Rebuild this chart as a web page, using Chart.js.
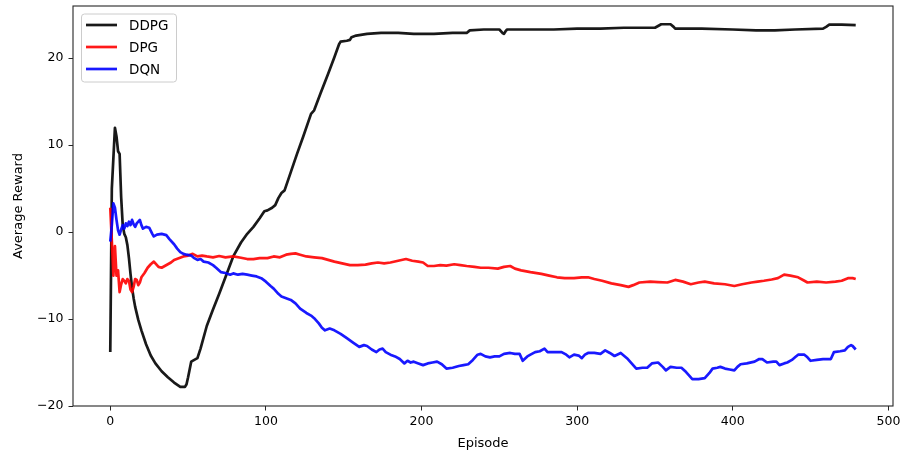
<!DOCTYPE html>
<html>
<head>
<meta charset="utf-8">
<script src="https://cdn.jsdelivr.net/npm/chart.js@4/dist/chart.umd.min.js"></script>
<style>
  html, body { margin: 0; padding: 0; background: #ffffff; }
  #wrap { width: 905px; height: 453px; }
</style>
</head>
<body>
<div id="wrap"><canvas id="c" width="905" height="453"></canvas></div>
<script>
// Average reward per episode for three agents
const seriesNames = ['DDPG', 'DPG', 'DQN'];
const seriesColors = ['rgba(0,0,0,0.9)', 'rgba(255,0,0,0.9)', 'rgba(0,0,255,0.9)'];

const ddpgEpisodes = [0,1,2,3,4,5,6,7,8,9,10,11,12,13,14,15,16,18,20,23,26,29,33,37,41,45,48,49,50,52,54,56,58,62,66,70,74,79,84,88,92,96,99,101,104,106,108,110,112,116,120,124,129,131,135,140,144,147,148,152,154,155,158,165,174,185,195,208,220,229,231,240,250,252,253,254,255,270,285,300,315,330,350,352,354,360,362,363,380,400,415,427,440,458,460,462,470,479];
const ddpgReward = [-13.8,5.0,8.5,12.0,11.0,9.3,9.0,4.0,0.8,-0.2,-0.6,-1.5,-3.0,-4.8,-6.4,-7.6,-8.6,-10.1,-11.3,-12.9,-14.2,-15.1,-16.0,-16.7,-17.3,-17.8,-17.8,-17.5,-16.7,-14.9,-14.7,-14.5,-13.4,-10.8,-8.9,-7.1,-5.2,-2.8,-1.2,-0.2,0.6,1.6,2.4,2.5,2.8,3.1,3.9,4.5,4.8,6.9,9.0,11.0,13.6,14.0,15.9,18.2,20.1,21.6,21.9,22.0,22.1,22.4,22.6,22.8,22.9,22.9,22.8,22.8,22.9,22.9,23.2,23.3,23.3,22.9,22.8,23.1,23.3,23.3,23.3,23.4,23.4,23.5,23.5,23.7,23.9,23.9,23.6,23.4,23.4,23.3,23.2,23.2,23.3,23.4,23.6,23.85,23.85,23.8];

const dpgEpisodes = [0,1,2,3,4,5,6,7,8,9,10,11,12,13,14,15,16,17,18,19,20,22,24,26,28,29,31,33,35,37,39,41,44,47,50,53,56,59,62,66,70,74,79,84,88,92,96,101,105,109,113,116,119,122,126,131,136,140,144,149,154,159,164,168,172,176,180,185,190,194,198,201,204,208,212,216,221,225,229,234,238,243,249,253,257,260,264,270,277,282,287,292,298,303,307,311,316,322,328,333,336,340,347,352,358,363,368,373,378,382,388,395,401,406,412,416,420,425,429,433,437,442,446,448,454,460,466,470,474,477,479];
const dpgReward = [2.8,-1.0,-5.0,-1.6,-5.0,-4.4,-6.9,-6.0,-5.4,-5.6,-5.9,-5.4,-5.6,-6.6,-6.9,-6.3,-5.4,-5.5,-6.1,-5.8,-5.2,-4.7,-4.1,-3.7,-3.4,-3.6,-4.0,-4.1,-3.9,-3.7,-3.5,-3.2,-3.0,-2.8,-2.7,-2.5,-2.8,-2.7,-2.8,-2.9,-2.75,-2.9,-2.8,-2.95,-3.1,-3.1,-3.0,-3.0,-2.8,-2.9,-2.6,-2.5,-2.45,-2.6,-2.8,-2.9,-3.0,-3.2,-3.4,-3.6,-3.8,-3.8,-3.75,-3.6,-3.5,-3.6,-3.5,-3.3,-3.1,-3.3,-3.4,-3.5,-3.9,-3.9,-3.8,-3.85,-3.7,-3.8,-3.9,-4.0,-4.1,-4.1,-4.2,-4.0,-3.9,-4.2,-4.4,-4.6,-4.8,-5.0,-5.2,-5.3,-5.3,-5.2,-5.2,-5.4,-5.6,-5.9,-6.1,-6.3,-6.1,-5.8,-5.7,-5.75,-5.8,-5.5,-5.7,-6.0,-5.8,-5.7,-5.9,-6.0,-6.2,-6.0,-5.8,-5.7,-5.6,-5.45,-5.3,-4.9,-5.0,-5.2,-5.6,-5.8,-5.7,-5.8,-5.7,-5.6,-5.3,-5.3,-5.4];

const dqnEpisodes = [0,1,2,3,4,5,6,7,8,9,10,11,12,13,14,15,16,17,19,20,21,23,25,27,28,30,33,36,38,41,43,45,47,49,52,54,56,58,60,63,66,68,71,74,77,79,82,85,88,91,94,97,100,103,105,108,110,113,116,119,122,126,129,131,134,136,138,141,144,148,152,156,160,163,165,168,171,173,175,177,180,183,186,189,191,193,195,198,201,204,207,210,213,216,220,224,227,230,233,236,238,241,244,247,250,253,257,260,263,265,268,270,273,276,279,281,285,290,293,295,298,301,303,305,307,311,315,318,321,324,328,332,335,338,342,345,348,352,355,357,360,364,367,370,372,374,378,382,385,387,390,392,395,398,401,403,405,409,414,417,419,422,426,428,430,433,435,438,440,442,446,448,450,454,458,463,465,469,472,474,476,477,479];
const dqnReward = [-1.1,0.8,3.3,2.8,1.4,0.2,-0.3,0.3,0.8,0.4,1.0,0.7,1.2,0.8,1.4,0.9,0.6,1.0,1.4,0.8,0.4,0.6,0.5,-0.2,-0.5,-0.3,-0.2,-0.35,-0.8,-1.4,-1.9,-2.3,-2.5,-2.6,-2.7,-3.0,-3.2,-3.1,-3.4,-3.5,-3.8,-4.1,-4.6,-4.7,-4.9,-4.75,-4.9,-4.8,-4.9,-5.0,-5.1,-5.3,-5.7,-6.2,-6.5,-7.1,-7.4,-7.6,-7.8,-8.2,-8.8,-9.3,-9.6,-9.9,-10.5,-11.0,-11.3,-11.1,-11.3,-11.7,-12.2,-12.7,-13.2,-13.0,-13.1,-13.5,-13.8,-13.5,-13.4,-13.8,-14.1,-14.3,-14.6,-15.1,-14.8,-15.0,-14.9,-15.1,-15.3,-15.1,-15.0,-14.9,-15.2,-15.7,-15.6,-15.4,-15.3,-15.2,-14.7,-14.1,-14.0,-14.3,-14.4,-14.3,-14.3,-14.0,-13.9,-14.0,-14.0,-14.8,-14.3,-14.1,-13.8,-13.7,-13.4,-13.8,-13.8,-13.8,-14.1,-14.4,-14.1,-14.2,-14.5,-14.1,-13.9,-13.9,-14.0,-13.6,-13.9,-14.25,-13.9,-14.5,-15.1,-15.7,-15.6,-15.6,-15.1,-15.0,-15.5,-15.9,-15.5,-15.6,-15.6,-16.1,-16.5,-16.9,-16.9,-16.8,-16.2,-15.7,-15.6,-15.5,-15.7,-15.8,-15.9,-15.5,-15.2,-15.1,-14.9,-14.6,-14.6,-15.0,-14.9,-14.9,-15.3,-15.1,-15.0,-14.7,-14.4,-14.1,-14.1,-14.4,-14.8,-14.7,-14.6,-14.6,-13.8,-13.7,-13.6,-13.2,-13.0,-13.1,-13.5];

const xTickValues = [0, 100, 200, 300, 400, 500];
const yTickValues = [-20, -10, 0, 10, 20];
const xTitle = 'Episode';
const yTitle = 'Average Reward';

const FONT = 'DejaVu Sans';

function toPoints(xs, ys) {
  return xs.map((x, i) => ({ x: x, y: ys[i] }));
}

const episodeSets = [ddpgEpisodes, dpgEpisodes, dqnEpisodes];
const rewardSets = [ddpgReward, dpgReward, dqnReward];

const datasets = seriesNames.map((name, i) => ({
  label: name,
  data: toPoints(episodeSets[i], rewardSets[i]),
  borderColor: seriesColors[i],
  backgroundColor: seriesColors[i],
  borderWidth: 2.7,
  pointRadius: 0,
  tension: 0,
  fill: false,
  borderJoinStyle: 'round',
  borderCapStyle: 'butt',
  order: seriesNames.length - i
}));

function fmtTick(v) {
  return v < 0 ? '\u2212' + Math.abs(v) : String(v);
}

// axes frame drawn over the plotted lines
const framePlugin = {
  id: 'frame',
  afterDatasetsDraw(chart) {
    const a = chart.chartArea;
    const ctx = chart.ctx;
    ctx.save();
    ctx.strokeStyle = '#262626';
    ctx.lineWidth = 1.1;
    ctx.strokeRect(a.left, a.top, a.right - a.left, a.bottom - a.top);
    ctx.restore();
  }
};

// legend box in the upper-left corner of the plot
const legendPlugin = {
  id: 'boxLegend',
  afterDraw(chart) {
    const ctx = chart.ctx;
    const a = chart.chartArea;
    const bx = a.left + 8.5, by = a.top + 8, bw = 95, bh = 68, r = 3;
    ctx.save();
    ctx.beginPath();
    ctx.moveTo(bx + r, by);
    ctx.lineTo(bx + bw - r, by);
    ctx.arcTo(bx + bw, by, bx + bw, by + r, r);
    ctx.lineTo(bx + bw, by + bh - r);
    ctx.arcTo(bx + bw, by + bh, bx + bw - r, by + bh, r);
    ctx.lineTo(bx + r, by + bh);
    ctx.arcTo(bx, by + bh, bx, by + bh - r, r);
    ctx.lineTo(bx, by + r);
    ctx.arcTo(bx, by, bx + r, by, r);
    ctx.closePath();
    ctx.fillStyle = 'rgba(255,255,255,0.8)';
    ctx.fill();
    ctx.strokeStyle = '#cccccc';
    ctx.lineWidth = 1;
    ctx.stroke();

    ctx.font = '13.5px "' + FONT + '"';
    ctx.textBaseline = 'alphabetic';
    ctx.textAlign = 'left';
    seriesNames.forEach((name, i) => {
      const y = by + 11 + i * 22;
      ctx.beginPath();
      ctx.moveTo(bx + 4.5, y);
      ctx.lineTo(bx + 35.5, y);
      ctx.strokeStyle = seriesColors[i];
      ctx.lineWidth = 2.7;
      ctx.stroke();
      ctx.fillStyle = '#000000';
      ctx.fillText(name, bx + 47.5, y + 5);
    });
    ctx.restore();
  }
};

new Chart(document.getElementById('c'), {
  type: 'line',
  data: { datasets: datasets },
  options: {
    responsive: false,
    animation: false,
    devicePixelRatio: 1,
    layout: { padding: { top: 6, right: 12, left: 0, bottom: 0 } },
    plugins: {
      legend: { display: false },
      tooltip: { enabled: false }
    },
    scales: {
      x: {
        type: 'linear',
        min: -23.95,
        max: 502.95,
        afterBuildTicks(scale) { scale.ticks = xTickValues.map(v => ({ value: v })); },
        afterFit(scale) { scale.height = 47; scale.paddingLeft = 0; scale.paddingRight = 0; },
        grid: { display: true, drawOnChartArea: false, drawTicks: true, tickLength: 4.5, color: '#262626', lineWidth: 1 },
        border: { display: false },
        ticks: {
          callback: fmtTick,
          color: '#000000',
          font: { family: FONT, size: 12.5 },
          padding: 4,
          maxRotation: 0,
          autoSkip: false
        },
        title: {
          display: true,
          text: xTitle,
          color: '#000000',
          font: { family: FONT, size: 13 },
          padding: { top: 0, bottom: 2 }
        }
      },
      y: {
        type: 'linear',
        min: -20,
        max: 26,
        afterBuildTicks(scale) { scale.ticks = yTickValues.map(v => ({ value: v })); },
        afterFit(scale) { scale.width = 73; scale.paddingTop = 0; scale.paddingBottom = 0; },
        grid: { display: true, drawOnChartArea: false, drawTicks: true, tickLength: 4.5, color: '#262626', lineWidth: 1 },
        border: { display: false },
        ticks: {
          callback: fmtTick,
          color: '#000000',
          font: { family: FONT, size: 12.5 },
          padding: 5,
          autoSkip: false
        },
        title: {
          display: true,
          text: yTitle,
          color: '#000000',
          font: { family: FONT, size: 13 },
          padding: { top: 11, bottom: 0 }
        }
      }
    }
  },
  plugins: [framePlugin, legendPlugin]
});
</script>
</body>
</html>
